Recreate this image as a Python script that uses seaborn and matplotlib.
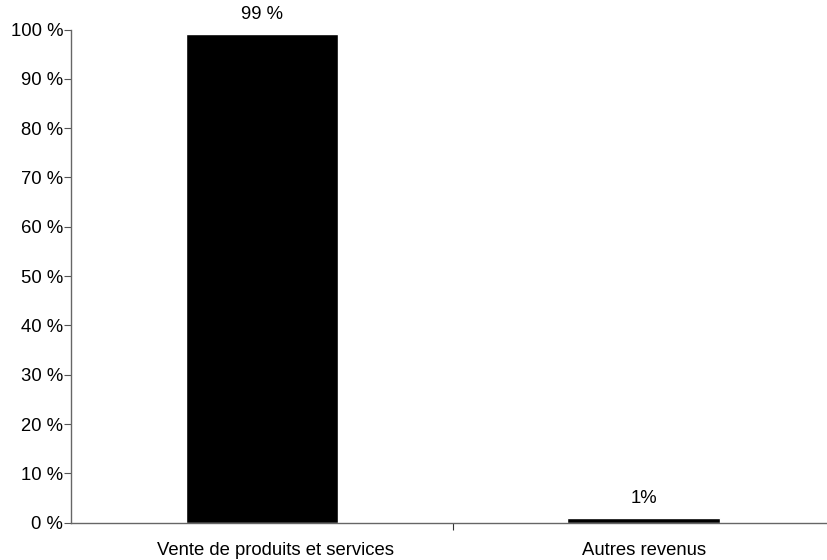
import seaborn as sns
import matplotlib.pyplot as plt
import matplotlib.transforms as mtransforms
from matplotlib.ticker import MultipleLocator, FixedLocator, FuncFormatter
import pandas as pd

categories = ["Vente de produits et services", "Autres revenus"]
values = [99, 1]
value_labels = ["99 %", "1%"]

sns.set_style("white")
plt.rcParams['font.family'] = ['Liberation Sans', 'DejaVu Sans']
plt.rcParams['text.color'] = 'black'
plt.rcParams['xtick.color'] = 'black'
plt.rcParams['ytick.color'] = 'black'

data = pd.DataFrame({"categorie": categories, "part": values})

fig = plt.figure(figsize=(8.28, 5.6), dpi=100)
ax = fig.add_axes([71 / 828, 37.3 / 560, 1 - 71 / 828, (522.7 - 29.5) / 560])

sns.barplot(data, x="categorie", y="part", color="black", saturation=1,
            width=0.4, ax=ax)

ax.set_ylim(0, 100)
ax.set_xlim(-0.5, 1.483)
ax.set_xlabel("")
ax.set_ylabel("")

ax.yaxis.set_major_locator(MultipleLocator(10))
ax.yaxis.set_major_formatter(FuncFormatter(lambda v, p: f"{int(v)} %"))

# category boundaries get the tick marks, labels stay centred
ax.xaxis.set_minor_locator(FixedLocator([0.5, 1.5]))
ax.tick_params(axis="x", which="major", length=0, pad=14, labelsize=13.3,
               labelcolor="black")
ax.tick_params(axis="x", which="minor", length=5, width=0.8, color="#333333",
               direction="out", bottom=True)
ax.tick_params(axis="y", length=5, width=0.8, color="#555555", direction="out",
               left=True, labelsize=13.3, pad=0.5, labelcolor="black")

# first category label sits a bit right of its bar in the original
first = ax.get_xticklabels()[0]
first.set_transform(first.get_transform() +
                    mtransforms.ScaledTranslation(0.14, 0, fig.dpi_scale_trans))

for s in ["top", "right"]:
    ax.spines[s].set_visible(False)
for s in ["left", "bottom"]:
    ax.spines[s].set_color("#666666")
    ax.spines[s].set_linewidth(1)

ax.bar_label(ax.containers[0], labels=value_labels, padding=8, fontsize=13.3,
             color="black")

plt.savefig("out.png", dpi=100)
